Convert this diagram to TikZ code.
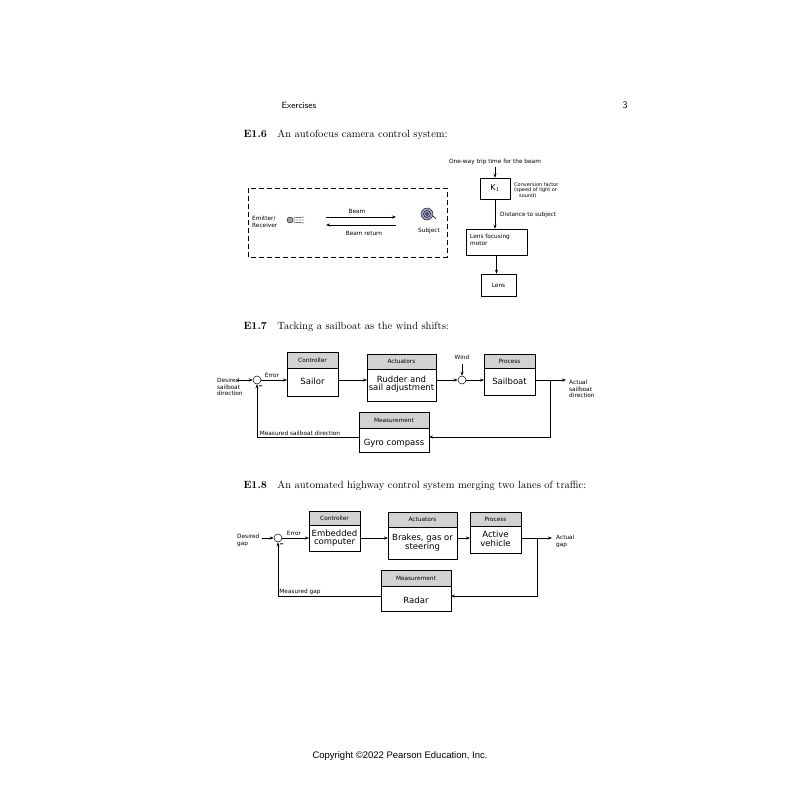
\documentclass[tikz,border=0pt]{standalone}
\usepackage{fontspec}
\newfontfamily\djf{DejaVu Sans}
\newfontfamily\libf{Liberation Sans}
\usetikzlibrary{arrows.meta}
\begin{document}
\begin{tikzpicture}[x=1pt,y=-1pt,
  lbl/.style={font=\djf\fontsize{5.8}{6.8}\selectfont,inner sep=0pt},
  big/.style={font=\djf\fontsize{8.5}{8}\selectfont,inner sep=0pt,align=center},
  hdr/.style={draw,fill=gray!35,line width=0.5pt},
  bx/.style={draw,line width=0.5pt},
  ar/.style={-{Stealth[length=4pt,width=3pt]},line width=0.6pt},
  sum/.style={circle,draw,line width=0.5pt,minimum size=8pt,inner sep=0pt}]
\useasboundingbox (0,0) rectangle (800,800);
\node[anchor=west,font=\fontsize{9}{9}\selectfont\sffamily] (ex) at (278,105) {Exercises};
\node[font=\fontsize{10}{10}\selectfont\sffamily] (pg) at (625,105) {3};
% E1.6
\node[anchor=west,font=\fontsize{10.5}{11}\selectfont] (t6) at (240,135) {\textbf{E1.6}\quad An autofocus camera control system:};
\draw[dashed,dash pattern=on 5pt off 3pt,line width=0.6pt] (248,188) rectangle (447,257);
\node[lbl,align=left,anchor=west] (em) at (252,222) {Emitter/\\Receiver};
\draw[fill=gray!70,line width=0.4pt] (290,220) circle (3);
\draw[line width=0.4pt] (293,218)--(304,217) (293,220)--(304,220) (293,222)--(304,223);
\coordinate (b1) at (326,217); \coordinate (b2) at (396,217);
\coordinate (r1) at (396,225); \coordinate (r2) at (326,225);
\draw[ar] (b1)--(b2); \draw[ar] (r1)--(r2);
\node[lbl] (bm) at (357,211) {Beam};
\node[lbl] (br) at (364,233) {Beam return};
\draw[fill=blue!25!gray!60,line width=0.4pt] (427,214) circle (6);
\draw[line width=0.4pt] (427,214) circle (1.5) (427,214) circle (3.5);
\draw[line width=0.4pt] (433,216)--(436,219);
\node[lbl] (sj) at (429,231) {Subject};
\node[lbl] (ow) at (495,162) {One-way trip time for the beam};
\node[bx,minimum width=30pt,minimum height=21pt,font=\djf\fontsize{8}{8}\selectfont] (k1) at (495,188.5) {K$_{1}$};
\draw[ar] (495,167) -- (k1.north);
\node[lbl,align=left,anchor=north west,font=\djf\fontsize{5}{5.8}\selectfont] (cf) at (514,182) {Conversion factor\\(speed of light or\\\hspace*{1em}sound)};
\node[bx,minimum width=61pt,minimum height=26pt] (lf) at (496.5,242) {};
\node[lbl,align=left,anchor=north west] (lft) at (470,234) {Lens focusing\\motor};
\draw[ar] (k1.south) -- (k1.south |- lf.north);
\node[lbl,anchor=west] (ds) at (500,215) {Distance to subject};
\node[bx,minimum width=35pt,minimum height=22pt,font=\djf\fontsize{5.8}{6}\selectfont] (lens) at (498.5,285) {Lens};
\draw[ar] (lf.south) -- (lf.south |- lens.north);
% E1.7
\node[anchor=west,font=\fontsize{10.5}{11}\selectfont] (t7) at (240,327) {\textbf{E1.7}\quad Tacking a sailboat as the wind shifts:};
\node[lbl,align=left,anchor=west] (ds7) at (217,387) {Desired\\sailboat\\direction};
\node[sum] (s7) at (257,380) {};
\node[font=\bfseries\fontsize{10}{10}\selectfont,inner sep=0pt] (m7) at (261,387) {-};
\draw[ar] (237,380) -- (s7.west);
\draw[hdr] (287,352) rectangle (338,368); \draw[bx] (287,368) rectangle (338,396);
\node[lbl] (c7) at (312.5,360) {Controller}; \node[big] (sl) at (312.5,381) {Sailor};
\draw[ar] (s7.east) -- (287,380); \node[lbl] (e7) at (272,375) {Error};
\draw[hdr] (367,354) rectangle (436,369); \draw[bx] (367,369) rectangle (436,401);
\node[lbl] (a7) at (401.5,361.5) {Actuators};
\node[big,font=\djf\fontsize{8.5}{6.5}\selectfont] (rs) at (401.5,384) {Rudder and\\sail adjustment};
\draw[ar] (338,380) -- (367,380);
\node[sum] (w7) at (462,380) {};
\node[lbl] (wd) at (462,357) {Wind};
\draw[ar] (462,364) -- (w7.north);
\draw[ar] (436,380) -- (w7.west);
\draw[hdr] (484,354) rectangle (535,368); \draw[bx] (484,368) rectangle (535,395);
\node[lbl] (p7) at (509.5,361) {Process}; \node[big] (sb) at (509.5,381) {Sailboat};
\draw[ar] (w7.east) -- (484,380);
\coordinate (o7) at (566,380);
\draw[ar] (535,380) -- (o7);
\node[lbl,align=left,anchor=west] (ac7) at (569,389) {Actual\\sailboat\\direction};
\draw[hdr] (359,412) rectangle (429,428); \draw[bx] (359,428) rectangle (429,452);
\node[lbl] (me7) at (394,420) {Measurement}; \node[big] (gc) at (394,443) {Gyro compass};
\draw[ar] (550,380) |- (429,437);
\draw[ar] (359,437) -| (s7.south);
\node[lbl] (ms7) at (300,433) {Measured sailboat direction};
% E1.8
\node[anchor=west,font=\fontsize{10.5}{11}\selectfont] (t8) at (240,486) {\textbf{E1.8}\quad An automated highway control system merging two lanes of traffic:};
\node[lbl,align=left,anchor=west] (dg) at (237,540) {Desired\\gap};
\node[sum] (s8) at (278,538) {};
\node[font=\bfseries\fontsize{10}{10}\selectfont,inner sep=0pt] (m8) at (282,545) {-};
\draw[ar] (262,538) -- (s8.west);
\draw[hdr] (309,511) rectangle (360,525); \draw[bx] (309,525) rectangle (360,551);
\node[lbl] (c8) at (334.5,518) {Controller};
\node[big,font=\djf\fontsize{8.5}{8.5}\selectfont] (ec) at (334.5,538) {Embedded\\computer};
\draw[ar] (s8.east) -- (309,538); \node[lbl] (e8) at (294,533) {Error};
\draw[hdr] (388,512) rectangle (457,527); \draw[bx] (388,527) rectangle (457,559);
\node[lbl] (a8) at (422.5,519.5) {Actuators};
\node[big,font=\djf\fontsize{8.5}{8}\selectfont] (bg) at (422.5,543) {Brakes, gas or\\steering};
\draw[ar] (360,538) -- (388,538);
\draw[hdr] (470,512) rectangle (521,526); \draw[bx] (470,526) rectangle (521,553);
\node[lbl] (p8) at (495.5,519) {Process};
\node[big,font=\djf\fontsize{8.5}{8.5}\selectfont] (av) at (495.5,539) {Active\\vehicle};
\draw[ar] (457,538) -- (470,538);
\coordinate (o8) at (552,538);
\draw[ar] (521,538) -- (o8);
\node[lbl,align=left,anchor=west] (ag) at (556,541) {Actual\\gap};
\draw[hdr] (381,570) rectangle (451,586); \draw[bx] (381,586) rectangle (451,611);
\node[lbl] (me8) at (416,578) {Measurement}; \node[big] (rd) at (416,600) {Radar};
\draw[ar] (537,538) |- (451,596);
\draw[ar] (381,596) -| (s8.south);
\node[lbl] (mg) at (300,592) {Measured gap};
\node[font=\libf\fontsize{9.5}{10}\selectfont] (cp) at (400,756) {Copyright \textcopyright2022 Pearson Education, Inc.};
\end{tikzpicture}
\end{document}
